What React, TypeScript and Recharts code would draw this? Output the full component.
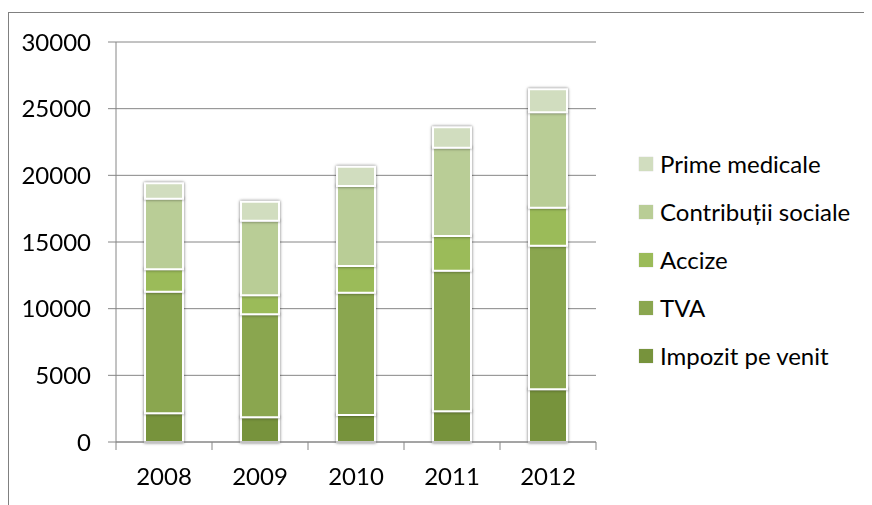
import React from 'react';
import { BarChart, Bar, XAxis, YAxis, CartesianGrid } from 'recharts';

const years = ['2008', '2009', '2010', '2011', '2012'];
const impozitPeVenit = [2150, 1850, 2025, 2300, 3950];
const tva = [9120, 7725, 9175, 10550, 10775];
const accize = [1680, 1425, 2000, 2600, 2850];
const contributiiSociale = [5300, 5600, 6000, 6625, 7150];
const primeMedicale = [1150, 1425, 1450, 1525, 1725];
const yTicks = [0, 5000, 10000, 15000, 20000, 25000, 30000];

const seriesNames = ['Impozit pe venit', 'TVA', 'Accize', 'Contribuții sociale', 'Prime medicale'];
const seriesKeys = ['impozit', 'tva', 'accize', 'contributii', 'prime'];
const seriesValues = [impozitPeVenit, tva, accize, contributiiSociale, primeMedicale];
const seriesColors = ['#77933c', '#8aa64f', '#9bbb59', '#b9cd96', '#d1ddbf'];

const data = years.map((year, i) => {
  const row: Record<string, string | number> = { year };
  seriesKeys.forEach((k, s) => {
    row[k] = seriesValues[s][i];
  });
  return row;
});

const FONT = 'Lato, "Liberation Sans", sans-serif';
const AXIS = '#868686';

const XTick = (props: any) => {
  const { x, y, payload, index, visibleTicksCount } = props;
  const half = payload && payload.offset != null ? payload.offset : 48;
  return (
    <g>
      <line x1={x - half} x2={x - half} y1={y} y2={y + 8} stroke={AXIS} strokeWidth={1} />
      {index === visibleTicksCount - 1 && (
        <line x1={x + half} x2={x + half} y1={y} y2={y + 8} stroke={AXIS} strokeWidth={1} />
      )}
      <text x={x} y={y + 43} textAnchor="middle" fill="#000" fontSize={24} fontFamily={FONT}>
        {payload.value}
      </text>
    </g>
  );
};

const LegendBlock = () => {
  const items = seriesNames.map((n, i) => ({ name: n, color: seriesColors[i] })).reverse();
  return (
    <div
      style={{
        position: 'absolute',
        left: 631,
        top: 132,
        width: 240,
        fontFamily: FONT,
        fontSize: 24,
        color: '#000',
      }}
    >
      {items.map((it) => (
        <div key={it.name} style={{ height: 48, display: 'flex', alignItems: 'center' }}>
          <span
            style={{
              display: 'inline-block',
              width: 14,
              height: 14,
              background: it.color,
              marginRight: 7,
              boxShadow: '0 0 1px rgba(0,0,0,0.25)',
            }}
          />
          <span style={{ lineHeight: '48px', whiteSpace: 'nowrap' }}>{it.name}</span>
        </div>
      ))}
    </div>
  );
};

export default function App() {
  return (
    <div style={{ position: 'relative', width: 864, height: 497 }}>
      <style>{`.stack-bar { filter: drop-shadow(0 0 1.5px rgba(0,0,0,0.28)); }`}</style>
      <div
        style={{
          position: 'absolute',
          top: 4,
          left: 0,
          width: 864,
          height: 493,
          borderTop: '1px solid #808080',
          borderLeft: '1px solid #808080',
          boxSizing: 'border-box',
        }}
      />
      <div style={{ position: 'absolute', top: 0, left: 0 }}>
        <BarChart
          width={864}
          height={497}
          data={data}
          margin={{ top: 34, right: 276, bottom: 23, left: 0 }}
          barSize={38}
        >
          <CartesianGrid vertical={false} stroke={AXIS} strokeWidth={1} />
          <XAxis
            dataKey="year"
            height={40}
            tickLine={false}
            tickSize={0}
            tickMargin={0}
            axisLine={{ stroke: AXIS, strokeWidth: 1 }}
            tick={<XTick />}
            interval={0}
          />
          <YAxis
            width={108}
            domain={[0, 30000]}
            ticks={yTicks}
            interval={0}
            tickSize={8}
            tickMargin={17}
            tickLine={{ stroke: AXIS, strokeWidth: 1 }}
            axisLine={{ stroke: AXIS, strokeWidth: 1 }}
            tick={{ fill: '#000', fontSize: 24, fontFamily: FONT }}
          />
          {seriesKeys.map((k, i) => (
            <Bar
              key={k}
              dataKey={k}
              name={seriesNames[i]}
              stackId="a"
              fill={seriesColors[i]}
              stroke="#ffffff"
              strokeWidth={2}
              className="stack-bar"
              isAnimationActive={false}
            />
          ))}
        </BarChart>
      </div>
      <LegendBlock />
    </div>
  );
}
